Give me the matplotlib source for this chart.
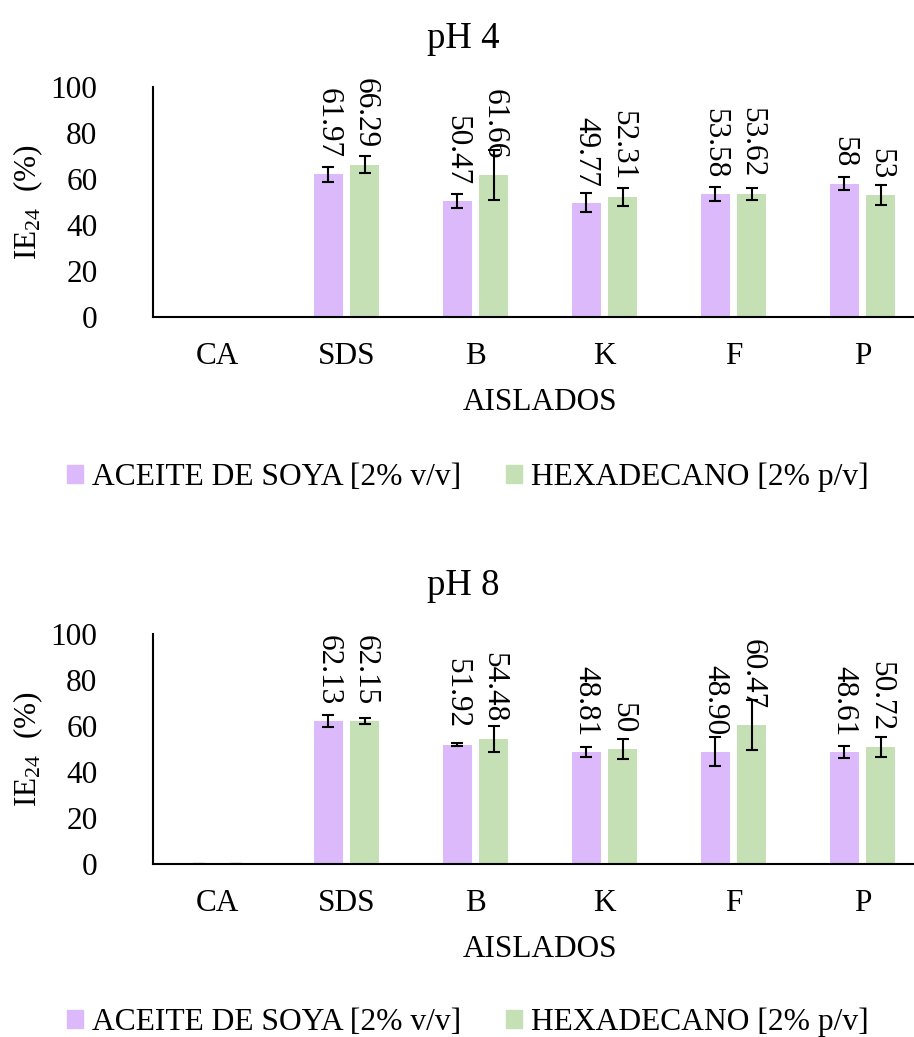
import matplotlib
matplotlib.use("Agg")
import matplotlib.pyplot as plt
import numpy as np
from matplotlib.patches import Patch

plt.rcParams['font.family'] = ['Liberation Serif', 'DejaVu Serif']
plt.rcParams['mathtext.fontset'] = 'custom'
plt.rcParams['mathtext.rm'] = 'Liberation Serif'
plt.rcParams['mathtext.it'] = 'Liberation Serif:italic'

categories = ["CA", "SDS", "B", "K", "F", "P"]
series_names = ["ACEITE DE SOYA [2% v/v]", "HEXADECANO [2% p/v]"]

ph4_soya = [0, 61.97, 50.47, 49.77, 53.58, 58]
ph4_hexa = [0, 66.29, 61.66, 52.31, 53.62, 53]
ph4_soya_err = [0, 3.3, 3.2, 4.2, 3.0, 2.8]
ph4_hexa_err = [0, 3.7, 10.8, 3.9, 2.6, 4.5]
ph4_soya_lbl = ["", "61.97", "50.47", "49.77", "53.58", "58"]
ph4_hexa_lbl = ["", "66.29", "61.66", "52.31", "53.62", "53"]

ph8_soya = [0, 62.13, 51.92, 48.81, 48.90, 48.61]
ph8_hexa = [0, 62.15, 54.48, 50, 60.47, 50.72]
ph8_soya_err = [0, 2.5, 0.5, 2.2, 6.5, 2.6]
ph8_hexa_err = [0, 1.4, 5.6, 4.3, 11.0, 4.3]
ph8_soya_lbl = ["", "62.13", "51.92", "48.81", "48.90", "48.61"]
ph8_hexa_lbl = ["", "62.15", "54.48", "50", "60.47", "50.72"]

yticks = [0, 20, 40, 60, 80, 100]

C_SOYA = '#DBB9FB'
C_HEXA = '#C5E0B4'
FS = 22.5

W, H = 914, 1037
fig = plt.figure(figsize=(W / 100, H / 100), dpi=100)


def make_axes(y_top_px, y_bot_px):
    left = 153
    right = 153 + 6 * 129
    return fig.add_axes([left / W, 1 - y_bot_px / H, (right - left) / W, (y_bot_px - y_top_px) / H])


def draw(ax, title, title_y, s1, s2, e1, e2, l1, l2, ca_caps):
    x = np.arange(len(categories))
    bw = 0.225
    off = 0.143
    ax.bar(x - off, s1, bw, color=C_SOYA, zorder=2)
    ax.bar(x + off, s2, bw, color=C_HEXA, zorder=2)
    n0 = 0 if ca_caps else 1
    ax.errorbar(x[n0:] - off, s1[n0:], yerr=e1[n0:], fmt='none', ecolor='black',
                elinewidth=1.5, capsize=4, capthick=1.5, zorder=3)
    ax.errorbar(x[n0:] + off, s2[n0:], yerr=e2[n0:], fmt='none', ecolor='black',
                elinewidth=1.5, capsize=4, capthick=1.5, zorder=3)
    for xi, v, t in zip(x - off, s1, l1):
        if t:
            ax.annotate(t, (xi, v), xytext=(0, 11.5), textcoords='offset points',
                        rotation=270, ha='center', va='bottom', fontsize=FS)
    for xi, v, t in zip(x + off, s2, l2):
        if t:
            ax.annotate(t, (xi, v), xytext=(0, 11.5), textcoords='offset points',
                        rotation=270, ha='center', va='bottom', fontsize=FS)
    ax.set_xlim(-0.5, len(categories) - 0.5)
    ax.set_ylim(0, 100)
    ax.set_yticks(yticks)
    ax.set_yticklabels([str(t) for t in yticks], fontsize=FS)
    ax.set_xticks(x)
    ax.set_xticklabels(categories, fontsize=FS)
    ax.tick_params(axis='y', length=0, pad=40)
    ax.tick_params(axis='x', length=0, pad=18)
    for s in ['top', 'right']:
        ax.spines[s].set_visible(False)
    ax.spines['left'].set_linewidth(1.5)
    ax.spines['bottom'].set_linewidth(1.5)
    ax.set_xlabel("AISLADOS", fontsize=FS, labelpad=12)
    ax.set_ylabel("IE$_{24}$  (%)", fontsize=FS, labelpad=4)
    fig.text(463 / W, 1 - title_y / H, title, fontsize=FS + 4, ha='center', va='baseline')


ax1 = make_axes(87, 317)
draw(ax1, "pH 4", 48, ph4_soya, ph4_hexa, ph4_soya_err, ph4_hexa_err, ph4_soya_lbl, ph4_hexa_lbl, False)
ax2 = make_axes(634, 864)
draw(ax2, "pH 8", 595, ph8_soya, ph8_hexa, ph8_soya_err, ph8_hexa_err, ph8_soya_lbl, ph8_hexa_lbl, True)

handles = [Patch(color=C_SOYA), Patch(color=C_HEXA)]
for yc in (477, 1022):
    fig.legend(handles, series_names, loc='center', bbox_to_anchor=(468 / W, 1 - yc / H),
               ncol=2, frameon=False, fontsize=FS + 0.2, handlelength=0.5, handleheight=0.5,
               handletextpad=0.3, columnspacing=1.4)

fig.savefig("out.png", dpi=100)
